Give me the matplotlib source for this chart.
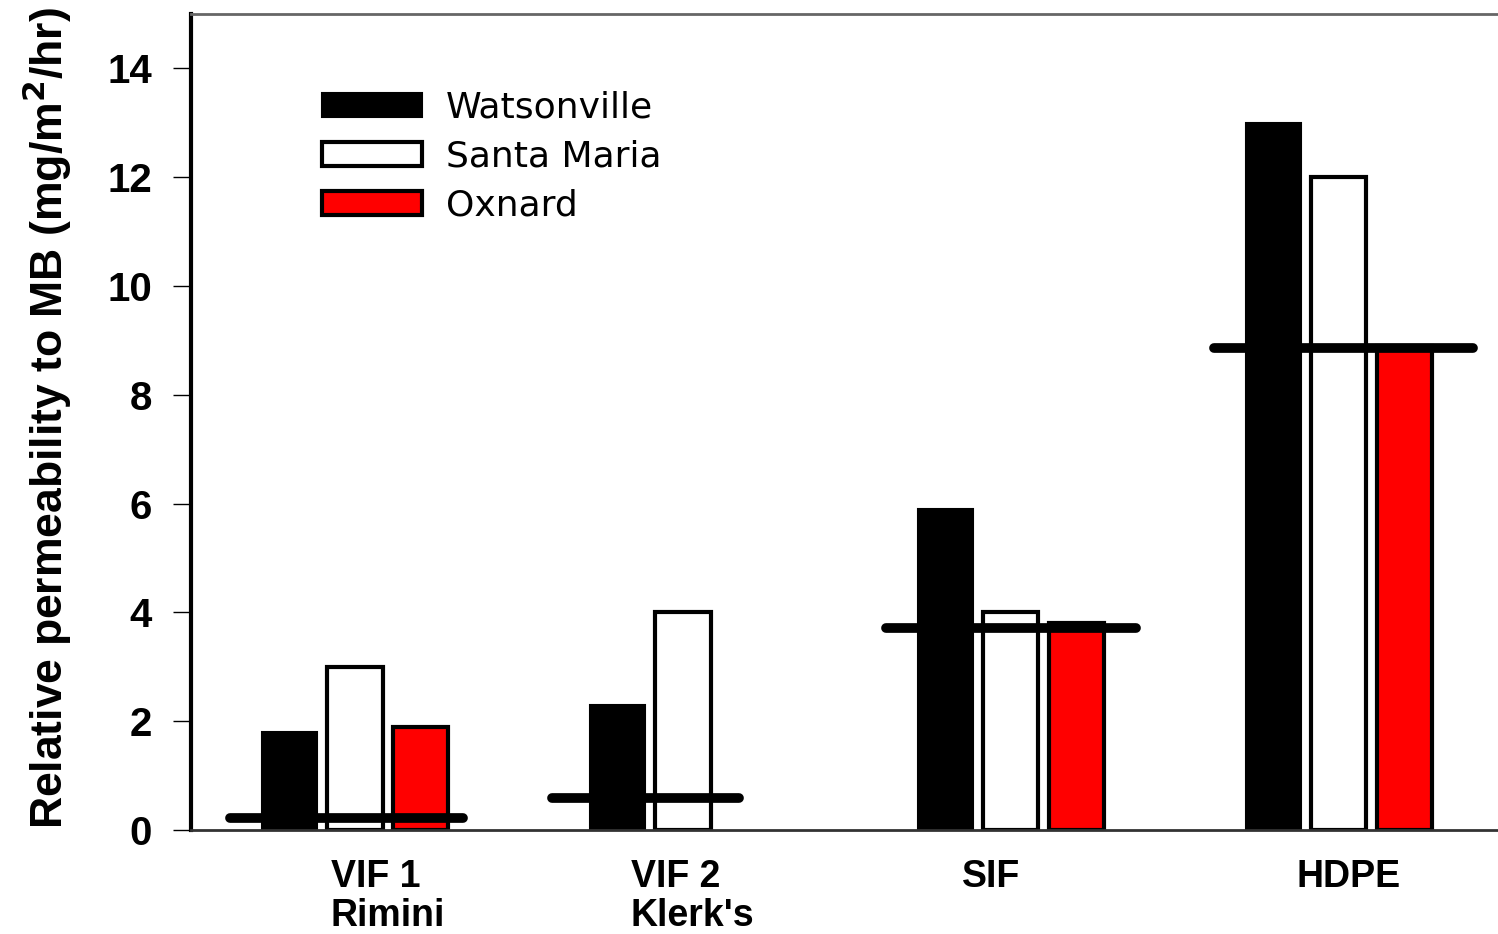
""" Relative permeability to MB bar chart """
import matplotlib
matplotlib.use("Agg")
import matplotlib.pyplot as plt
import numpy as np

""" Data """
films = ["VIF 1\nRimini", "VIF 2\nKlerk's", "SIF", "HDPE"]
watsonville = [1.8, 2.3, 5.9, 13.0]
santa_maria = [3.0, 4.0, 4.0, 12.0]
oxnard = [1.9, np.nan, 3.8, 8.9]
# reference level lines (value, start, end)
ref_level = [0.22, 0.58, 3.72, 8.86]
ref_start = [0.62, 1.60, 2.62, 3.62]
ref_end = [1.33, 2.17, 3.38, 4.41]
label_pos = [1.10, 2.03, 2.94, 4.03]

plt.rcParams['font.family'] = ['Liberation Sans', 'DejaVu Sans']

figure = plt.figure(figsize=(14.98, 9.34), dpi=100)
axis = figure.add_axes([0.1275, 0.1113, 0.8725, 0.874])

x = np.arange(1, len(films) + 1)
w = 0.168
axis.bar(x - 0.2, watsonville, w, color="black", edgecolor="black", linewidth=1.5, label="Watsonville")
axis.bar(x, santa_maria, w, color="white", edgecolor="black", linewidth=3, label="Santa Maria")
axis.bar(x + 0.2, oxnard, w, color="#ff0000", edgecolor="black", linewidth=3, label="Oxnard")

for lv, s, e in zip(ref_level, ref_start, ref_end):
    axis.plot([s, e], [lv, lv], color="black", linewidth=7, solid_capstyle="round", zorder=5)

axis.set_xlim(0.5, 4.485)
axis.set_ylim(0, 15)
axis.set_yticks(range(0, 15, 2))
axis.tick_params(axis="y", direction="out", length=13, width=1, pad=15, labelsize=29)
for t in axis.get_yticklabels():
    t.set_fontweight("bold")
axis.set_xticks(label_pos)
axis.set_xticklabels(films, fontsize=27, fontweight="bold", ha="center", multialignment="left",
                     linespacing=1.1)
axis.tick_params(axis="x", length=0, pad=21)

axis.spines["left"].set_linewidth(3)
axis.spines["bottom"].set_linewidth(2)
axis.spines["bottom"].set_color("#333333")
axis.spines["top"].set_linewidth(2)
axis.spines["top"].set_color("#666666")
axis.spines["right"].set_visible(False)

axis.set_ylabel("Relative permeability to MB (mg/m$^\\mathbf{2}$/hr)", fontsize=32, fontweight="bold")
axis.yaxis.set_label_coords(-0.0895, 0.505)

axis.legend(loc="upper left", bbox_to_anchor=(0.1, 0.906), frameon=False,
            prop={"family": "DejaVu Sans", "size": 26},
            handlelength=2.78, handleheight=0.66, handletextpad=0.65, labelspacing=0.42,
            borderaxespad=0, borderpad=0)

figure.savefig("out.png", dpi=100)
